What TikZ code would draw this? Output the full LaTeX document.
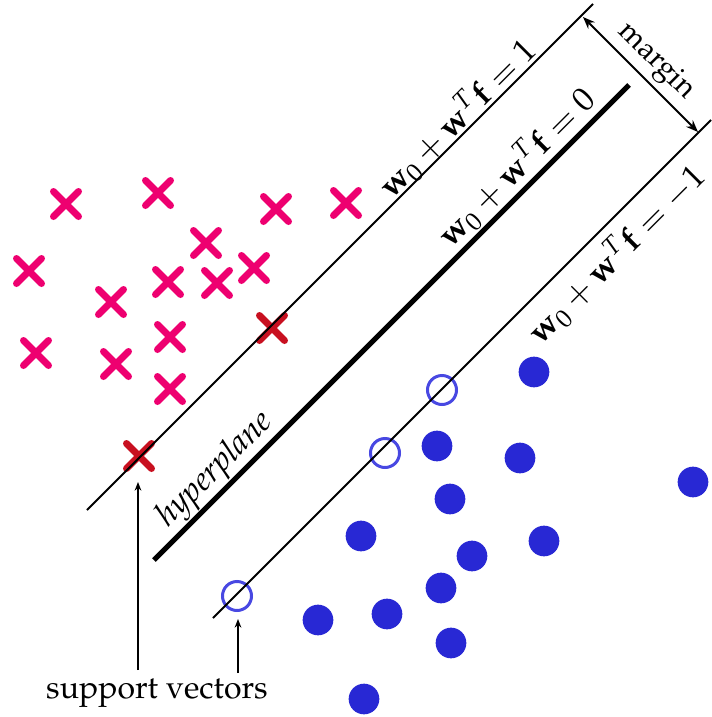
\documentclass[tikz,border=0pt]{standalone}
\usepackage[T1]{fontenc}
\usepackage{mathpazo}
\usetikzlibrary{shapes.misc,arrows.meta}
\definecolor{pinkx}{RGB}{238,0,112}
\definecolor{redx}{RGB}{200,16,32}
\definecolor{bluedot}{RGB}{40,40,212}
\definecolor{bluering}{RGB}{72,72,226}
\begin{document}
\begin{tikzpicture}[x=0.3pt,y=-0.3pt,
  xmark/.style={cross out,draw=pinkx,line width=2.1pt,line cap=round,minimum size=7.5pt,inner sep=0pt,outer sep=0pt},
  svx/.style={xmark,draw=redx},
  bdot/.style={circle,fill=bluedot,minimum size=9.2pt,inner sep=0pt,outer sep=0pt},
  ring/.style={circle,draw=bluering,line width=0.9pt,minimum size=8.7pt,inner sep=0pt,outer sep=0pt},
  thinline/.style={line width=0.6pt},
  thickline/.style={line width=1.5pt},
  lbl/.style={inner sep=0pt,font=\fontsize{10}{12}\selectfont},
  pointer/.style={line width=0.35pt,-{Stealth[length=2.6pt,width=2.0pt]}}]
\useasboundingbox (0,0) rectangle (711,717);
% class +1 crosses
\node[xmark] (x1) at (66,204) {};
\node[xmark] (x2) at (158,193) {};
\node[xmark] (x3) at (276,209) {};
\node[xmark] (x4) at (346,203) {};
\node[xmark] (x5) at (206,243) {};
\node[xmark] (x6) at (29,271) {};
\node[xmark] (x7) at (254,268) {};
\node[xmark] (x8) at (168,282) {};
\node[xmark] (x9) at (217,283) {};
\node[xmark] (x10) at (111,302) {};
\node[xmark] (x11) at (170,337) {};
\node[xmark] (x12) at (36,353) {};
\node[xmark] (x13) at (116,364) {};
\node[xmark] (x14) at (170,389) {};
\node[svx] (sx1) at (272,328) {};
\node[svx] (sx2) at (139,456) {};
% class -1 dots
\node[bdot] (d1) at (534,372) {};
\node[bdot] (d2) at (437,446) {};
\node[bdot] (d3) at (520,458) {};
\node[bdot] (d4) at (693,482) {};
\node[bdot] (d5) at (450,499) {};
\node[bdot] (d6) at (361,536) {};
\node[bdot] (d7) at (544,541) {};
\node[bdot] (d8) at (472,556) {};
\node[bdot] (d9) at (441,588) {};
\node[bdot] (d10) at (318,620) {};
\node[bdot] (d11) at (387,614) {};
\node[bdot] (d12) at (451,643) {};
\node[bdot] (d13) at (364,699) {};
\node[ring] (r1) at (442,390) {};
\node[ring] (r2) at (385,453) {};
\node[ring] (r3) at (237,596) {};
% lines
\coordinate (u1) at (87,510);
\coordinate (u2) at (593,4);
\coordinate (h1) at (154,560);
\coordinate (h2) at (629,85);
\coordinate (l1) at (213,618);
\coordinate (l2) at (711,120);
\draw[thinline] (u1) -- (u2);
\draw[thickline] (h1) -- (h2);
\draw[thinline] (l1) -- (l2);
% margin
\coordinate (m1) at (583,17);
\coordinate (m2) at (698,132);
\draw[thinline,{Stealth[length=3.6pt,width=2.8pt]}-{Stealth[length=3.6pt,width=2.8pt]}] (m1) -- (m2);
\node[lbl,rotate=-45,font=\fontsize{9}{11}\selectfont] (mg) at (656,62) {margin};
% labels
\node[lbl,rotate=45] (e1) at (457,118) {$\mathbf{w}_0+\mathbf{w}^T\mathbf{f}=1$};
\node[lbl,rotate=45] (e0) at (516,167) {$\mathbf{w}_0+\mathbf{w}^T\mathbf{f}=0$};
\node[lbl,rotate=45] (em) at (616,254) {$\mathbf{w}_0+\mathbf{w}^T\mathbf{f}=-1$};
\node[lbl,rotate=45] (hp) at (216,470) {\textit{hyperplane}};
% support vectors
\node[lbl,anchor=base,font=\fontsize{9.6}{11}\selectfont] (sv) at (157,698) {support vectors};
\coordinate (p1) at (138,670);
\coordinate (p2) at (238,673);
\draw[pointer] (p1) -- (138,482);
\draw[pointer] (p2) -- (238,619);
\end{tikzpicture}
\end{document}
